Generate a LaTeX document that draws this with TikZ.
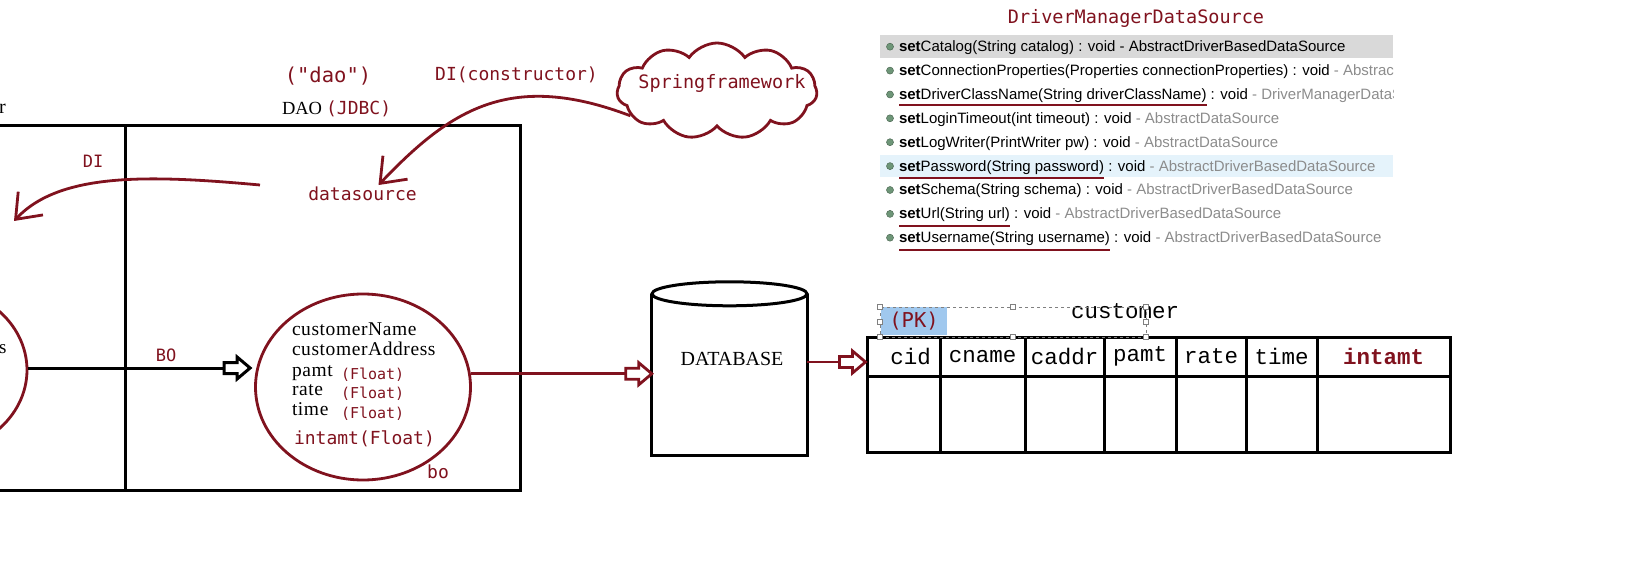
\documentclass[tikz,border=0pt]{standalone}
\usepackage{fontspec}
\setmainfont{Liberation Serif}
\newfontfamily\cons{DejaVu Sans Mono}
\newfontfamily\cour{Liberation Mono}
\newfontfamily\tah{Liberation Sans}
\newfontfamily\sims[LetterSpace=3]{Liberation Serif}
\usetikzlibrary{arrows.meta,shapes.geometric,shapes.symbols}
\newcommand{\setfs}[1]{\fontsize{#1}{#1}\selectfont}
\definecolor{mred}{RGB}{128,18,30}
\definecolor{hlgray}{RGB}{217,217,217}
\definecolor{hlblue}{RGB}{229,243,251}
\definecolor{pkblue}{RGB}{160,200,238}
\definecolor{bulletc}{RGB}{110,150,120}
\definecolor{graytxt}{RGB}{140,140,140}

\pgfdeclarearrow{
  name = HollowBlock,
  setup code = {
    \pgfarrowssettipend{0pt}
    \pgfarrowssetlineend{-20pt}
    \pgfarrowssetbackend{-26pt}
    \pgfarrowshullpoint{0pt}{0pt}
    \pgfarrowshullpoint{-26pt}{11pt}
    \pgfarrowshullpoint{-26pt}{-11pt}
  },
  drawing code = {
    \pgfsetdash{}{0pt}
    \pgfsetmiterjoin
    \pgfpathmoveto{\pgfqpoint{0pt}{0pt}}
    \pgfpathlineto{\pgfqpoint{-13pt}{11pt}}
    \pgfpathlineto{\pgfqpoint{-13pt}{5.5pt}}
    \pgfpathlineto{\pgfqpoint{-26pt}{5.5pt}}
    \pgfpathlineto{\pgfqpoint{-26pt}{-5.5pt}}
    \pgfpathlineto{\pgfqpoint{-13pt}{-5.5pt}}
    \pgfpathlineto{\pgfqpoint{-13pt}{-11pt}}
    \pgfpathclose
    \pgfsetfillcolor{white}
    \pgfusepathqfillstroke
  },
}

\tikzset{
  redln/.style={draw=mred, line width=2.8pt},
  blkln/.style={draw=black, line width=3pt},
  txt/.style={inner sep=0pt, outer sep=0pt},
  monored/.style={txt, text=mred, font=\cons\setfs{18}},
  cellbox/.style={draw, line width=3pt, inner sep=0pt, font=\cour\setfs{22.5}},
  barb/.style={-{Straight Barb[length=22pt,width=34pt]}},
  block/.style={-{HollowBlock}},
  meth/.style={txt, anchor=base west, font=\tah\setfs{15}},
  attr/.style={txt, anchor=base west, font=\sims\setfs{19.5}},
  ftype/.style={txt, anchor=base west, text=mred, font=\cons\setfs{15}},
  handle/.style={draw=gray, fill=white, line width=0.6pt, minimum size=5pt, inner sep=0pt, rectangle},
  bullet/.style={circle, fill=bulletc, draw=bulletc!70!black, line width=0.5pt, minimum size=7pt, inner sep=0pt},
}

\begin{document}
\begin{tikzpicture}[x=1pt,y=-1pt]
\useasboundingbox (0,0) rectangle (1628,588);
\clip (0,0) rectangle (1628,588);

% ---------- left boxes ----------
\node[blkln, rectangle, minimum width=165.6pt, minimum height=364.4pt, inner sep=0pt] (svc) at (42.8,307.8) {};
\node[blkln, rectangle, minimum width=394.4pt, minimum height=364.4pt, inner sep=0pt] (daobox) at (322.8,307.8) {};

\node[txt, anchor=west, font=\setfs{20}] (rtxt) at (-1,109) {r};
\node[txt, anchor=base west, font=\setfs{18.5}] (daolbl) at (282,115) {DAO};
\node[txt, anchor=base west, text=mred, font=\cons\setfs{18}] (jdbc) at ([xshift=4pt]daolbl.base east) {(JDBC)};
\node[monored, font=\cons\setfs{20.5}] (daoq) at (328,76) {("dao")};
\node[monored] (dic) at (516.5,75) {DI(constructor)};
\node[monored, font=\cons\setfs{17}] (dilbl) at (93,161) {DI};
\node[monored, inner sep=2pt] (ds) at (362.5,194) {datasource};

% cloud
\node[cloud, draw=mred, line width=2.8pt, cloud puffs=11, cloud puff arc=110, aspect=2.05,
      minimum width=200pt, minimum height=96pt, inner sep=0pt] (spring) at (717,91) {};
\node[monored, font=\cons\setfs{18.5}] (springtxt) at (722,83) {Springframework};

% DI arrows
\coordinate (dis) at (260,185);
\coordinate (dit) at (14,221);
\draw[redln, barb] (dis) .. controls (150,175) and (60,172) .. (dit);
\draw[redln, barb] (spring.196) .. controls (510,70) and (450,110) .. ([xshift=16pt]ds.north);

% left partial ellipse
\node[ellipse, draw=mred, line width=2.8pt, minimum width=200pt, minimum height=170pt] (lo) at (-73,370) {};
\node[txt, anchor=west, font=\setfs{19}] (stxt) at (-1,349) {s};

% BO ellipse
\node[ellipse, draw=mred, line width=2.8pt, minimum width=215pt, minimum height=186pt] (bo) at (363,387) {};
\node[attr] (a1) at (292,335) {customerName};
\node[attr] (a2) at (292,355) {customerAddress};
\node[attr] (a3) at (292,376) {pamt};
\node[attr] (a4) at (292,395) {rate};
\node[attr] (a5) at (292,415) {time};
\node[ftype] (f3) at (341,379) {(Float)};
\node[ftype] (f4) at (341,398) {(Float)};
\node[ftype] (f5) at (341,418) {(Float)};
\node[txt, anchor=base west, text=mred, font=\cons\setfs{18}] (a6) at (294,444) {intamt(Float)};
\node[monored] (bolbl) at (438,472) {bo};
\node[monored, font=\cons\setfs{17}] (BOlbl) at (166,355) {BO};

% BO arrow (black)
\draw[line width=3pt, block, shorten >=4pt] (lo.east |- 0,368) -- (bo.west |- 0,368);

% database
\node[rectangle, inner sep=0pt, minimum width=155pt, minimum height=161pt] (db) at (729.5,374.5) {};
\draw[blkln] (db.north west) -- (db.south west) -- (db.south east) -- (db.north east);
\draw[blkln, fill=white] (db.north) ellipse [x radius=77.5, y radius=12];
\node[txt, font=\setfs{20}] (dbtxt) at (732,359) {DATABASE};

% bo -> db
\draw[redln, block] (bo.7) -- (bo.7 -| db.west);

% table
\node[cellbox, minimum width=73pt, minimum height=39pt] (h1) at (903.5,356.5) {\hspace*{14pt}cid};
\node[cellbox, minimum width=85pt, minimum height=39pt] (h2) at (982.5,356.5) {cname};
\node[cellbox, minimum width=79pt, minimum height=39pt] (h3) at (1064.5,356.5) {caddr};
\node[cellbox, minimum width=72pt, minimum height=39pt] (h4) at (1140,356.5) {pamt};
\node[cellbox, minimum width=70pt, minimum height=39pt] (h5) at (1211,356.5) {rate};
\node[cellbox, minimum width=71pt, minimum height=39pt] (h6) at (1281.5,356.5) {time};
\node[cellbox, minimum width=133pt, minimum height=39pt, text=mred, font=\cour\bfseries\setfs{22.5}] (h7) at (1383.5,356.5) {intamt};
\node[cellbox, minimum width=73pt, minimum height=76pt] (b1) at (903.5,414) {};
\node[cellbox, minimum width=85pt, minimum height=76pt] (b2) at (982.5,414) {};
\node[cellbox, minimum width=79pt, minimum height=76pt] (b3) at (1064.5,414) {};
\node[cellbox, minimum width=72pt, minimum height=76pt] (b4) at (1140,414) {};
\node[cellbox, minimum width=70pt, minimum height=76pt] (b5) at (1211,414) {};
\node[cellbox, minimum width=71pt, minimum height=76pt] (b6) at (1281.5,414) {};
\node[cellbox, minimum width=133pt, minimum height=76pt] (b7) at (1383.5,414) {};

% db -> table
\draw[redln, block] (db.east |- 0,362) -- (h1.west |- 0,362);

% (PK) and customer
\fill[pkblue] (881,307) rectangle (947,335);
\node[txt, text=mred, font=\cons\setfs{20.5}] (pk) at (914,321) {(PK)};
\node[txt, font=\cour\setfs{22.5}] (cust) at (1125,311) {customer};
\draw[gray, line width=0.8pt, dashed] (880,307) rectangle (1146,337);
\foreach \hx/\hy in {880/307,1013/307,1146/307,880/322,1146/322,880/337,1013/337,1146/337}
  \node[handle] at (\hx,\hy) {};

% ---------- DriverManagerDataSource list ----------
\node[txt, text=mred, font=\cons\setfs{18.5}] (dmtitle) at (1136,18) {DriverManagerDataSource};
\fill[hlgray] (880,35.5) rectangle (1393,58);
\fill[hlblue] (880,155.5) rectangle (1393,177.5);
\begin{scope}
\clip (875,30) rectangle (1393,260);
\foreach \k/\yy in {1/46.7,2/70.6,3/94.5,4/118.3,5/142.2,6/166.1,7/190,8/213.9,9/237.7}
  \node[bullet] at (890,\yy) {};
\node[meth] (m1) at (899,51.7) {\textbf{set}Catalog(String catalog)};
\node[meth] (r1) at (m1.base east) {\ : void - AbstractDriverBasedDataSource};
\node[meth] (m2) at (899,75.6) {\textbf{set}ConnectionProperties(Properties connectionProperties)};
\node[meth] (r2) at (m2.base east) {\ : void {\color{graytxt}- AbstractDriverBasedDataSource}};
\node[meth] (m3) at (899,99.5) {\textbf{set}DriverClassName(String driverClassName)};
\node[meth] (r3) at (m3.base east) {\ : void {\color{graytxt}- DriverManagerDataSource}};
\node[meth] (m4) at (899,123.3) {\textbf{set}LoginTimeout(int timeout)};
\node[meth] (r4) at (m4.base east) {\ : void {\color{graytxt}- AbstractDataSource}};
\node[meth] (m5) at (899,147.2) {\textbf{set}LogWriter(PrintWriter pw)};
\node[meth] (r5) at (m5.base east) {\ : void {\color{graytxt}- AbstractDataSource}};
\node[meth] (m6) at (899,171.1) {\textbf{set}Password(String password)};
\node[meth] (r6) at (m6.base east) {\ : void {\color{graytxt}- AbstractDriverBasedDataSource}};
\node[meth] (m7) at (899,195) {\textbf{set}Schema(String schema)};
\node[meth] (r7) at (m7.base east) {\ : void {\color{graytxt}- AbstractDriverBasedDataSource}};
\node[meth] (m8) at (899,218.9) {\textbf{set}Url(String url)};
\node[meth] (r8) at (m8.base east) {\ : void {\color{graytxt}- AbstractDriverBasedDataSource}};
\node[meth] (m9) at (899,242.7) {\textbf{set}Username(String username)};
\node[meth] (r9) at (m9.base east) {\ : void {\color{graytxt}- AbstractDriverBasedDataSource}};
\end{scope}
\draw[mred, line width=2pt] (m3.base west |- 0,105) -- (m3.base east |- 0,105);
\draw[mred, line width=2pt] (m6.base west |- 0,178.5) -- (m6.base east |- 0,178.5);
\draw[mred, line width=2pt] (m8.base west |- 0,226) -- (m8.base east |- 0,226);
\draw[mred, line width=2pt] (m9.base west |- 0,250) -- (m9.base east |- 0,250);
\end{tikzpicture}
\end{document}
